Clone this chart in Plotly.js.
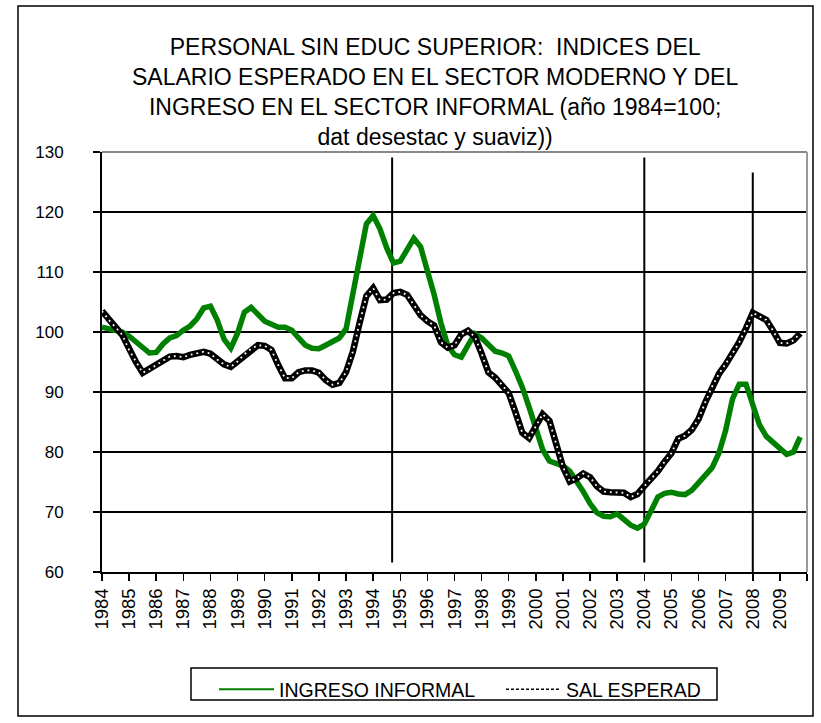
<!DOCTYPE html>
<html>
<head>
<meta charset="utf-8">
<script src="https://cdn.plot.ly/plotly-3.0.1.min.js"></script>
<style>html,body{margin:0;padding:0;background:#fff;}#chart{width:821px;height:723px;}</style>
</head>
<body>
<div id="chart"></div>
<script>
// Years on the axis (quarterly data, 1984Q1 .. 2009Q4)
const years = [1984,1985,1986,1987,1988,1989,1990,1991,1992,1993,1994,1995,1996,1997,1998,1999,2000,2001,2002,2003,2004,2005,2006,2007,2008,2009];
const quarterOffsets = [0, 0.25, 0.5, 0.75];

// INGRESO INFORMAL (green)
const ingresoInformal = [
  100.8,100.5,100.4,100.0, 99.3,98.3,97.2,96.5, 96.6,98.0,99.0,99.4, 100.3,101.0,102.2,104.0,
  104.3,102.0,98.8,97.3, 99.8,103.3,104.1,103.0, 101.8,101.3,100.8,100.8, 100.3,99.0,97.8,97.3,
  97.2,97.8,98.5,99.0, 100.5,106.5,113.0,118.0, 119.4,117.2,114.0,111.5, 111.8,113.5,115.6,114.2,
  110.3,106.2,101.5,97.8, 96.2,95.8,97.8,99.7, 99.0,98.0,96.8,96.5, 96.0,93.5,90.8,87.5,
  84.0,80.4,78.5,78.0, 77.7,76.8,75.2,73.4, 71.4,69.9,69.3,69.2, 69.7,68.8,67.8,67.3,
  68.0,70.2,72.5,73.1, 73.3,73.0,72.9,73.6, 74.8,76.0,77.4,79.8, 83.6,88.8,91.3,91.3,
  87.8,84.5,82.6,81.5, 80.6,79.6,80.0,82.5
];

// SAL ESPERAD (black)
const salEsperad = [
  103.5,102.0,100.8,99.5, 97.0,95.0,93.2,93.8, 94.5,95.2,95.9,96.0, 95.8,96.2,96.5,96.7,
  96.4,95.4,94.6,94.2, 95.1,96.3,97.2,97.8, 97.7,97.0,94.5,92.3, 92.3,93.3,93.6,93.6,
  93.2,92.0,91.2,91.5, 93.3,96.7,101.5,106.0, 107.3,105.3,105.4,106.5, 106.7,106.2,104.5,102.8,
  101.8,101.1,98.3,97.4, 97.8,99.6,100.2,99.2, 96.4,93.3,92.4,91.2, 89.8,86.6,83.2,82.3,
  84.2,86.3,85.2,81.3, 77.5,75.1,75.6,76.4, 75.8,74.3,73.4,73.3, 73.3,73.2,72.5,73.0,
  74.3,75.5,76.8,78.4, 79.8,82.2,82.7,83.7, 85.5,88.3,90.9,93.0, 94.6,96.4,98.3,100.6,
  103.2,102.6,102.0,100.2, 98.2,98.1,98.6,99.8
];

// Vertical reference lines (time, top value, bottom value)
const refLineX = [1994.7, 2004, 2008];
const refLineTop = [129.1, 129.1, 126.6];
const refLineBottom = [61.6, 61.6, 60];

const tickYears = years.concat([2010]);
const tickText = years.map(String).concat(['']);

const xq = [];
years.forEach(y => quarterOffsets.forEach(o => xq.push(y + o)));
const n = ingresoInformal.length;
const xs = xq.slice(0, n);

const FONT = 'Liberation Sans, Arial, sans-serif';

const traces = [];
refLineX.forEach((x, i) => {
  traces.push({x: [x, x], y: [refLineBottom[i], refLineTop[i]], mode: 'lines',
    line: {color: '#000', width: 2}, showlegend: false, hoverinfo: 'skip'});
});
traces.push({x: xs, y: ingresoInformal, mode: 'lines', name: 'INGRESO INFORMAL',
  line: {color: '#008000', width: 5.5}, showlegend: false});
traces.push({x: xs, y: salEsperad, mode: 'lines', name: 'SAL ESPERAD',
  line: {color: '#000', width: 6.5}, showlegend: false});
traces.push({x: xs, y: salEsperad, mode: 'lines', name: 'SAL ESPERAD dots',
  line: {color: '#fff', width: 1.8, dash: '1.8px,4px'}, showlegend: false, hoverinfo: 'skip'});
// legend entries
traces.push({x: [null], y: [null], mode: 'lines', name: 'INGRESO INFORMAL',
  line: {color: '#008000', width: 2}, showlegend: true});
traces.push({x: [null], y: [null], mode: 'lines', name: 'SAL ESPERAD',
  line: {color: '#000', width: 1.5, dash: '3px,2px'}, showlegend: true});

const layout = {
  width: 821, height: 723,
  margin: {l: 102, r: 14, t: 152, b: 151, autoexpand: false},
  paper_bgcolor: '#fff', plot_bgcolor: '#fff',
  font: {family: FONT, color: '#000'},
  title: {
    text: 'PERSONAL SIN EDUC SUPERIOR:  INDICES DEL<br>SALARIO ESPERADO EN EL SECTOR MODERNO Y DEL<br>INGRESO EN EL SECTOR INFORMAL (año 1984=100;<br>dat desestac y suaviz))',
    font: {family: FONT, size: 23, color: '#000'},
    x: 0.53, xref: 'container', xanchor: 'center',
    y: 1 - 55/723, yref: 'container', yanchor: 'top'
  },
  xaxis: {
    range: [1984, 2010], type: 'linear', automargin: false,
    tickmode: 'array', tickvals: tickYears, ticktext: tickText,
    tickangle: -90, tickfont: {family: FONT, size: 18.5, color: '#000'},
    ticks: 'outside', ticklen: 7, tickwidth: 1.5, tickcolor: '#000',
    showgrid: false, zeroline: false,
    showline: true, linecolor: '#000', linewidth: 2
  },
  yaxis: {
    range: [60, 130], tickmode: 'linear', tick0: 60, dtick: 10, automargin: false,
    tickfont: {family: FONT, size: 17, color: '#000'},
    ticks: 'outside', ticklen: 7, tickwidth: 1.5, tickcolor: '#000',
    ticklabelstandoff: 26,
    showgrid: true, gridcolor: '#000', gridwidth: 1.5, zeroline: false,
    showline: true, linecolor: '#000', linewidth: 2
  },
  showlegend: true,
  legend: {
    orientation: 'h', x: (214 - 102) / 705, xanchor: 'left',
    y: (572 - 670) / 420, yanchor: 'top',
    borderwidth: 0, bgcolor: 'rgba(0,0,0,0)',
    font: {family: FONT, size: 19.5, color: '#000'},
    itemwidth: 55, traceorder: 'normal', entrywidth: 217
  },
  shapes: [
    {type: 'line', xref: 'paper', yref: 'paper', x0: 0, x1: 1, y0: 1, y1: 1, line: {color: '#888', width: 2}},
    {type: 'line', xref: 'paper', yref: 'paper', x0: 1, x1: 1, y0: 0, y1: 1, line: {color: '#999', width: 2}},
    {type: 'rect', xref: 'paper', yref: 'paper', x0: (18 - 102) / 705, x1: (813 - 102) / 705,
      y0: (572 - 716) / 420, y1: (572 - 6) / 420, line: {color: '#000', width: 1.5}, fillcolor: 'rgba(0,0,0,0)'},
    {type: 'rect', xref: 'paper', yref: 'paper', x0: (191 - 102) / 705, x1: (717 - 102) / 705,
      y0: (572 - 700) / 420, y1: (572 - 668) / 420, line: {color: '#000', width: 1.5}, fillcolor: 'rgba(0,0,0,0)'}
  ]
};

Plotly.newPlot('chart', traces, layout, {displayModeBar: false, staticPlot: true});
</script>
</body>
</html>
